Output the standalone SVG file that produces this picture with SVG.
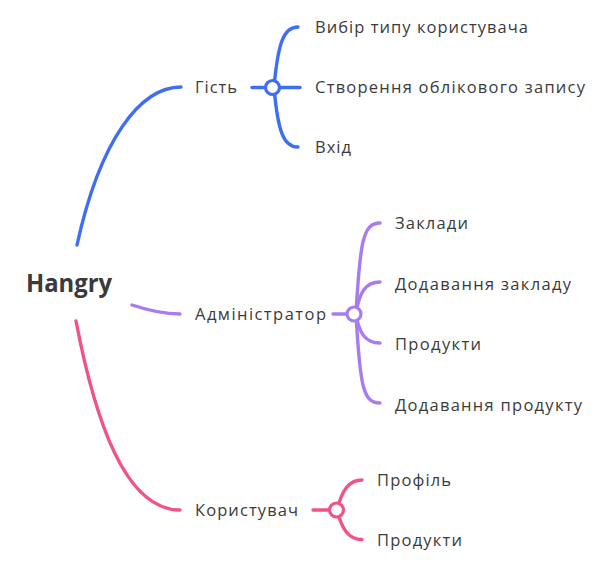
<svg xmlns="http://www.w3.org/2000/svg" width="611" height="566" viewBox="0 0 611 566">
<style>
.t{font-family:"Open Sans","Noto Sans","Liberation Sans",sans-serif;font-size:16.5px;fill:#3b3b3b}
.root{font-family:"Open Sans","Noto Sans","Liberation Sans",sans-serif;font-size:25px;font-weight:bold;fill:#3a3a3a}
.c{fill:none;stroke-width:3.4;stroke-linecap:round}
.b{stroke:#3f6ef6}
.p{stroke:#a67cf0}
.k{stroke:#f15388}
.hub{fill:#ffffff;stroke-width:3.2}
</style>
<rect width="611" height="566" fill="#ffffff"/>
<g id="connectors">
  <path class="c b" d="M77,245 C100,140 140,87 181,87"/>
  <path class="c p" d="M132,305 C150,311 165,314 180,314"/>
  <path class="c k" d="M76,321 C95,420 125,510 180,510"/>
  <path class="c b" d="M252,87.5 L300,87.5"/>
  <path class="c b" d="M274,87.5 C278,42 284,27 298,27"/>
  <path class="c b" d="M274,87.5 C278,133 284,147 298,147"/>
  <path class="c p" d="M333,314 L354,314"/>
  <path class="c p" d="M356,314 C360,242 363,223 380,223"/>
  <path class="c p" d="M356,314 C359,292 366,282 380,282"/>
  <path class="c p" d="M356,314 C359,334 366,343 380,343"/>
  <path class="c p" d="M356,314 C360,386 363,403 380,403"/>
  <path class="c k" d="M313,510 L337,510"/>
  <path class="c k" d="M337,510 C342,490 349,480 362,480"/>
  <path class="c k" d="M337,510 C342,530 349,539.5 362,539.5"/>
  <circle class="hub b" cx="272.5" cy="87.5" r="7"/>
  <circle class="hub p" cx="354" cy="314" r="7"/>
  <circle class="hub k" cx="336.5" cy="510" r="7"/>
</g>
<g id="root"><text class="root" x="26" y="292" textLength="86" lengthAdjust="spacingAndGlyphs">Hangry</text></g>
<g id="guest"><text class="t" x="195" y="93" textLength="42">Гість</text></g>
<g id="guest-1"><text class="t" x="315" y="33" textLength="213">Вибір типу користувача</text></g>
<g id="guest-2"><text class="t" x="315" y="93" textLength="270">Створення облікового запису</text></g>
<g id="guest-3"><text class="t" x="315" y="153" textLength="36">Вхід</text></g>
<g id="admin"><text class="t" x="195" y="320" textLength="131">Адміністратор</text></g>
<g id="admin-1"><text class="t" x="395" y="229" textLength="73">Заклади</text></g>
<g id="admin-2"><text class="t" x="395" y="290" textLength="176">Додавання закладу</text></g>
<g id="admin-3"><text class="t" x="395" y="350" textLength="86">Продукти</text></g>
<g id="admin-4"><text class="t" x="395" y="411" textLength="187">Додавання продукту</text></g>
<g id="user"><text class="t" x="195" y="516" textLength="103">Користувач</text></g>
<g id="user-1"><text class="t" x="377" y="486" textLength="74">Профіль</text></g>
<g id="user-2"><text class="t" x="377" y="546" textLength="85">Продукти</text></g>
</svg>
